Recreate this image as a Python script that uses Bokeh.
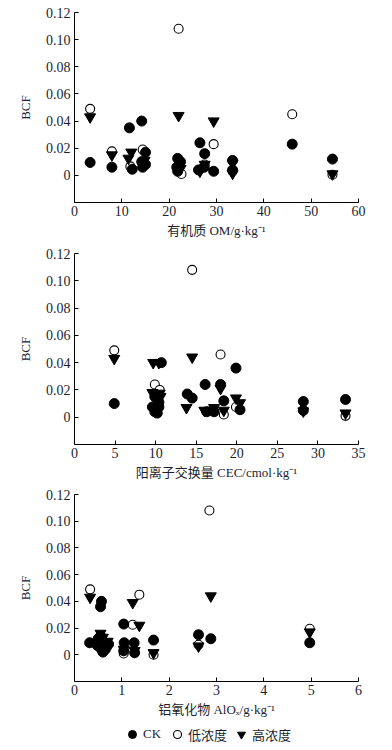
from bokeh.plotting import figure
from bokeh.models import (Range1d, FixedTicker, CustomJSTickFormatter, Legend, LegendItem,
                          ColumnDataSource)
from bokeh.layouts import column
from bokeh.embed import file_html
from bokeh.resources import INLINE

# ---------------- data ----------------
# Panel 1: organic matter OM (g/kg)
ck_x1 = [3.3, 7.9, 11.6, 14.2, 12.2, 15.0, 14.2, 15.0, 14.4, 21.8, 22.4, 21.6, 21.8, 26.5, 27.5, 27.4, 26.2, 29.4, 33.4, 33.4, 46.0, 54.5]
ck_y1 = [0.0095, 0.006, 0.035, 0.040, 0.0045, 0.017, 0.010, 0.008, 0.006, 0.0125, 0.010, 0.006, 0.003, 0.024, 0.016, 0.006, 0.004, 0.003, 0.011, 0.004, 0.023, 0.012]
low_x1 = [3.3, 7.9, 11.8, 14.4, 22.0, 22.6, 27.5, 29.4, 33.4, 46.0, 54.5]
low_y1 = [0.049, 0.0177, 0.0066, 0.019, 0.108, 0.001, 0.008, 0.023, 0.003, 0.045, 0.0005]
high_x1 = [3.3, 7.9, 12.0, 11.4, 14.8, 22.0, 22.4, 26.5, 27.5, 29.4, 33.4, 33.4, 54.5]
high_y1 = [0.043, 0.015, 0.017, 0.0125, 0.011, 0.044, 0.005, 0.003, 0.008, 0.040, 0.009, 0.0015, 0.001]

# Panel 2: cation exchange capacity CEC (cmol/kg)
ck_x2 = [4.9, 10.7, 9.9, 10.4, 9.6, 10.4, 9.9, 10.2, 13.9, 14.5, 16.1, 18.0, 18.4, 16.3, 17.2, 19.9, 20.4, 28.2, 28.2, 33.4]
ck_y2 = [0.010, 0.040, 0.015, 0.011, 0.0075, 0.0075, 0.004, 0.003, 0.017, 0.014, 0.024, 0.024, 0.012, 0.004, 0.004, 0.036, 0.0055, 0.0115, 0.005, 0.013]
low_x2 = [4.9, 9.9, 10.5, 14.5, 18.0, 18.4, 19.9, 33.4]
low_y2 = [0.049, 0.024, 0.020, 0.108, 0.046, 0.002, 0.0075, 0.001]
high_x2 = [4.9, 9.7, 10.4, 9.6, 10.5, 10.6, 13.8, 14.5, 16.0, 17.2, 18.0, 18.4, 19.9, 20.4, 28.2, 33.4]
high_y2 = [0.043, 0.040, 0.040, 0.018, 0.0175, 0.015, 0.007, 0.044, 0.005, 0.007, 0.021, 0.005, 0.014, 0.0105, 0.0045, 0.003]

# Panel 3: aluminium oxides AlOx (g/kg)
ck_x3 = [0.32, 0.57, 0.55, 0.50, 0.55, 0.60, 0.62, 0.65, 0.55, 0.68, 0.60, 0.72, 0.48, 1.04, 1.05, 1.26, 1.04, 1.27, 1.67, 2.62, 2.88, 4.97]
ck_y3 = [0.009, 0.040, 0.036, 0.012, 0.014, 0.010, 0.007, 0.004, 0.005, 0.006, 0.002, 0.008, 0.007, 0.023, 0.009, 0.009, 0.003, 0.0015, 0.011, 0.015, 0.012, 0.009]
low_x3 = [0.33, 1.37, 2.85, 1.23, 1.04, 1.67, 2.62, 4.97, 0.60]
low_y3 = [0.049, 0.045, 0.108, 0.0225, 0.001, 0.0, 0.0075, 0.0195, 0.008]
high_x3 = [0.33, 1.23, 2.88, 0.55, 0.70, 0.60, 1.37, 1.04, 1.27, 1.67, 2.62, 4.97]
high_y3 = [0.043, 0.039, 0.044, 0.016, 0.010, 0.013, 0.022, 0.004, 0.003, 0.0015, 0.0065, 0.017]

y_ticks = [0, 0.02, 0.04, 0.06, 0.08, 0.10, 0.12]
x_ticks1 = [0, 10, 20, 30, 40, 50, 60]
x_ticks2 = [0, 5, 10, 15, 20, 25, 30, 35]
x_ticks3 = [0, 1, 2, 3, 4, 5, 6]
x_label1 = "有机质 OM/g·kg⁻¹"
x_label2 = "阳离子交换量 CEC/cmol·kg⁻¹"
x_label3 = "铝氧化物 AlOₓ/g·kg⁻¹"
y_label = "BCF"
series_names = ["CK", "低浓度", "高浓度"]

FONT = "'Liberation Serif', 'Noto Sans CJK SC', serif"
TXT = "#1c1f30"
PAGE_W = 376


def style_axis(ax):
    ax.axis_line_color = "black"
    ax.axis_line_width = 1
    ax.major_tick_in = 4
    ax.major_tick_out = 0
    ax.minor_tick_line_color = None
    ax.major_tick_line_color = "black"
    ax.major_label_text_font = FONT
    ax.major_label_text_font_size = "14px"
    ax.major_label_text_color = TXT
    ax.axis_label_text_font = FONT
    ax.axis_label_text_font_size = "13px"
    ax.axis_label_text_font_style = "normal"
    ax.axis_label_text_color = TXT


def add_series(p, cx, cy, lx, ly, hx, hy):
    r_low = p.scatter("x", "y", source=ColumnDataSource(dict(x=lx, y=ly)),
                      marker="circle", size=9, fill_color="white",
                      line_color="black", line_width=1.1)
    r_high = p.scatter("x", "y", source=ColumnDataSource(dict(x=hx, y=hy)),
                       marker="inverted_triangle", size=11,
                       fill_color="black", line_color="black")
    r_ck = p.scatter("x", "y", source=ColumnDataSource(dict(x=cx, y=cy)),
                     marker="circle", size=10, fill_color="black",
                     line_color="black")
    return r_ck, r_low, r_high


def make_panel(cx, cy, lx, ly, hx, hy, xmax, xticks, xlabel, left, top, frame_h, bottom):
    p = figure(frame_width=284, frame_height=frame_h,
               x_range=Range1d(0, xmax), y_range=Range1d(-0.02, 0.12),
               output_backend="svg", toolbar_location=None,
               min_border_left=left, min_border_right=PAGE_W - 284 - left,
               min_border_top=top, min_border_bottom=bottom)
    p.outline_line_color = None
    p.xgrid.visible = False
    p.ygrid.visible = False

    p.xaxis.ticker = FixedTicker(ticks=xticks)
    p.yaxis.ticker = FixedTicker(ticks=y_ticks)
    p.yaxis.formatter = CustomJSTickFormatter(
        code="return Math.abs(tick) < 1e-9 ? '0' : tick.toFixed(2);")
    p.xaxis.axis_label = xlabel
    p.yaxis.axis_label = y_label
    style_axis(p.xaxis[0])
    style_axis(p.yaxis[0])
    p.xaxis.major_label_standoff = 3
    p.xaxis.axis_label_standoff = 4
    p.yaxis.major_label_standoff = 4
    p.yaxis.axis_label_standoff = 10

    add_series(p, cx, cy, lx, ly, hx, hy)
    return p


p1 = make_panel(ck_x1, ck_y1, low_x1, low_y1, high_x1, high_y1, 60, x_ticks1, x_label1, 70, 12, 190, 43)
p2 = make_panel(ck_x2, ck_y2, low_x2, low_y2, high_x2, high_y2, 35, x_ticks2, x_label2, 71, 8, 191, 44)
p3 = make_panel(ck_x3, ck_y3, low_x3, low_y3, high_x3, high_y3, 6, x_ticks3, x_label3, 74, 6, 187, 40)

# legend strip: the same series, viewed through a window that shows none of
# the points, so only the legend (glyph + label) is visible
pl = figure(width=PAGE_W, height=26, x_range=Range1d(-2, -1), y_range=Range1d(-2, -1),
            output_backend="svg", toolbar_location=None, min_border=0,
            x_axis_location=None, y_axis_location=None)
pl.outline_line_color = None
pl.xgrid.visible = False
pl.ygrid.visible = False
l_ck, l_low, l_high = add_series(pl, ck_x3, ck_y3, low_x3, low_y3, high_x3, high_y3)
lg = Legend(items=[LegendItem(label=series_names[0], renderers=[l_ck]),
                   LegendItem(label=series_names[1], renderers=[l_low]),
                   LegendItem(label=series_names[2], renderers=[l_high])],
            orientation="horizontal", location=(48, 3),
            border_line_color=None, background_fill_alpha=0,
            label_text_font=FONT, label_text_font_size="13px",
            label_text_color=TXT, glyph_width=20, glyph_height=20,
            label_standoff=1, spacing=4, padding=0, margin=0,
            label_height=14)
pl.add_layout(lg, "center")

layout = column(p1, p2, p3, pl, spacing=0)
open("out.html", "w").write(file_html(layout, INLINE))
